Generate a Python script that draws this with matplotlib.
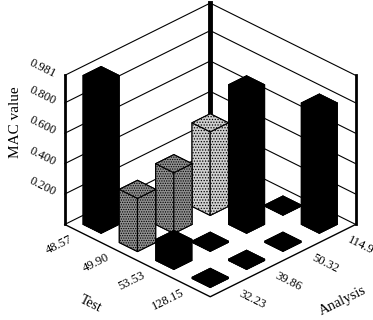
import matplotlib
matplotlib.use("Agg")
import matplotlib.pyplot as plt

plt.rcParams['font.family'] = ['Liberation Serif', 'DejaVu Serif']
plt.rcParams['hatch.linewidth'] = 0.6

test_labels = ['48.57', '49.90', '53.53', '128.15']
analysis_labels = ['32.23', '39.86', '50.32', '114.9']
z_ticks = [0.2, 0.4, 0.6, 0.8, 0.981]
z_tick_labels = ['0.200', '0.400', '0.600', '0.800', '0.981']

# one row per test mode, one column per analysis mode
mac_48 = [0.981, 0.0, 0.0, 0.0]
mac_49 = [0.35, 0.40, 0.55, 0.0]
mac_53 = [0.14, 0.01, 0.92, 0.01]
mac_128 = [0.01, 0.01, 0.01, 0.80]
mac_rows = [mac_48, mac_49, mac_53, mac_128]

fig = plt.figure(figsize=(3.73, 3.20), dpi=100)
ax = fig.add_axes([0.052, 0.018, 1, 1], projection='3d', computed_zorder=False)
ax.set_proj_type('ortho')
ax.view_init(elev=29.8, azim=-45)
ax.set_xlim(0, 4, view_margin=0)
ax.set_ylim(0, 4, view_margin=0)
ax.set_zlim(0, 0.981, view_margin=0)
ax.set_box_aspect((1, 1, 0.835), zoom=1.025)
ax.set_axis_off()

# wall lines
for z in [0] + z_ticks:
    ax.plot([0, 0, 4], [0, 4, 4], [z, z, z], color='black', lw=0.8, zorder=1)

# thick corner posts
ax.plot([0, 0], [0, 0], [0, 0.981], color='black', lw=2, zorder=2)
ax.plot([0, 0], [4, 4], [0, 0.981], color='black', lw=3.5, zorder=2)
ax.plot([4, 4], [4, 4], [0, 0.981], color='black', lw=2, zorder=2)

# floor front edges
ax.plot([0, 4, 4], [0, 0, 4], [0, 0, 0], color='black', lw=1, zorder=3)

width = 0.5
for i, row in enumerate(mac_rows):
    for j, h in enumerate(row):
        if h == 0:
            continue
        order = 10 + i - j
        if (i, j) in [(1, 0), (1, 1)]:
            ax.bar3d(i + 0.25, j + 0.25, 0, width, width, h, color='#909090', edgecolor='black',
                     hatch='.......', shade=False, linewidth=0.8, zorder=order)
        elif (i, j) == (1, 2):
            ax.bar3d(i + 0.25, j + 0.25, 0, width, width, h, color='#d0d0d0', edgecolor='black',
                     hatch='......', shade=False, linewidth=0.8, zorder=order)
        else:
            ax.bar3d(i + 0.25, j + 0.25, 0, width, width, h, color='black', edgecolor='black',
                     shade=False, linewidth=0.5, zorder=order)

# Text3D takes its angle from zdir, rotation= is ignored
for i, label in enumerate(test_labels):
    ax.text(i + 0.5, -0.65, 0, label, zdir='y', fontsize=9, ha='center', va='center', zorder=30)
for j, label in enumerate(analysis_labels):
    ax.text(4.65, j + 0.5, 0, label, zdir='x', fontsize=9, ha='center', va='center', zorder=30)
for z, label in zip(z_ticks, z_tick_labels):
    ax.text(-0.5, -0.1, z, label, zdir='x', fontsize=9, ha='center', va='center', zorder=30)

ax.text(2.55, -1.85, 0, 'Test', zdir='x', fontsize=10, ha='center', va='center', zorder=30)
ax.text(5.92, 1.72, 0, 'Analysis', zdir='y', fontsize=10.5, ha='center', va='center', zorder=30)
ax.text(-1.35, 0, 0.51, 'MAC value', zdir='z', fontsize=11, ha='center', va='center', zorder=30)

fig.savefig('out.png', dpi=100)
